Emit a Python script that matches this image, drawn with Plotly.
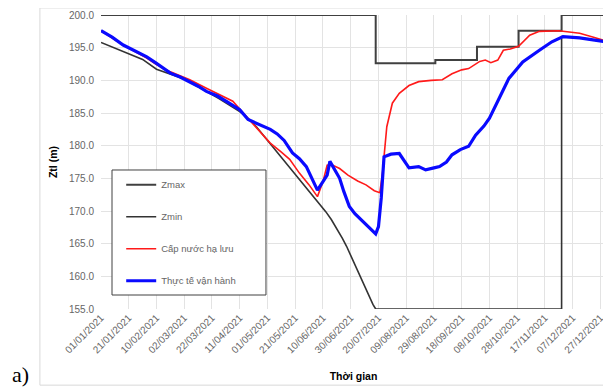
import pandas as pd
import plotly.graph_objects as go

START = "2021-01-01"

# Zmax (step line): day offset -> level
zmax_days = [0, 198, 241, 271, 301, 332, 364]
zmax_vals = [200.0, 192.6, 193.1, 195.15, 197.6, 200.0, 200.0]

# Zmin
zmin_days = [0, 10, 20, 30, 40, 48, 60, 71, 85, 100, 106, 112, 117, 122, 129, 136, 141, 145,
             149, 152, 157, 162, 166, 170, 174, 177, 180, 183, 186, 188, 191, 193, 196, 198,
             332, 332, 345, 364]
zmin_vals = [195.8, 194.9, 194.0, 193.2, 191.7, 191.1, 190.2, 188.9, 187.2, 185.2, 184.2,
             182.9, 181.6, 180.2, 178.4, 176.6, 175.3, 174.3, 173.3, 172.4, 171.1, 169.9,
             168.7, 167.3, 165.8, 164.6, 163.2, 161.8, 160.4, 159.4, 157.9, 156.9, 155.7,
             155.0, 155.0, 196.7, 196.5, 195.9]

# Cấp nước hạ lưu
red_days = [0, 16, 33, 40, 50, 64, 76, 88, 95, 100, 107, 115, 122, 130, 136, 143, 150, 156,
            160, 163, 166, 172, 178, 185, 191, 197, 201, 203, 206, 210, 215, 222, 229, 238,
            246, 253, 260, 265, 269, 273, 277, 281, 286, 290, 295, 301, 309, 316, 330, 345,
            355, 364]
red_vals = [197.6, 195.4, 193.4, 192.4, 191.3, 190.1, 188.8, 187.6, 186.8, 185.6, 183.9,
            182.1, 180.4, 179.0, 177.9, 175.8, 174.0, 172.2, 174.5, 177.0, 177.1, 176.5,
            175.5, 174.6, 174.0, 173.1, 172.8, 176.0, 182.9, 186.5, 188.0, 189.2, 189.8,
            190.0, 190.1, 191.0, 191.6, 191.8, 192.4, 192.9, 193.1, 192.7, 193.1, 194.6,
            194.8, 195.2, 196.9, 197.5, 197.6, 197.2, 196.6, 196.0]

# Thực tế vận hành
blue_days = [0, 8, 16, 25, 33, 40, 50, 57, 64, 70, 76, 84, 91, 100, 106, 110, 117, 122, 127,
             132, 138, 143, 148, 152, 156, 160, 163, 165, 168, 172, 175, 179, 183, 188, 193,
             196, 198, 200, 202, 204, 209, 215, 218, 222, 229, 234, 240, 244, 249, 253, 259,
             265, 270, 276, 280, 287, 294, 304, 311, 316, 325, 333, 345, 355, 364]
blue_vals = [197.6, 196.6, 195.4, 194.5, 193.6, 192.6, 191.1, 190.5, 189.8, 189.1, 188.3,
             187.6, 186.7, 185.5, 184.0, 183.6, 182.9, 182.5, 181.8, 180.8, 178.9, 178.0,
             176.8, 175.0, 173.2, 174.5, 175.5, 177.6, 176.5, 175.0, 173.0, 170.7, 169.6,
             168.6, 167.6, 166.9, 166.5, 167.6, 172.0, 178.3, 178.7, 178.8, 177.8, 176.6,
             176.8, 176.3, 176.6, 176.8, 177.5, 178.6, 179.4, 179.9, 181.6, 183.0, 184.2,
             187.3, 190.3, 192.8, 193.9, 194.6, 195.9, 196.7, 196.5, 196.2, 195.9]

series_names = ["Zmax", "Zmin", "Cấp nước hạ lưu", "Thực tế vận hành"]
tick_step_days = 20
n_ticks = 19
y_ticks = [155, 160, 165, 170, 175, 180, 185, 190, 195, 200]


def to_dates(days):
    return [pd.Timestamp(START) + pd.Timedelta(days=d) for d in days]


fig = go.Figure()
fig.add_trace(go.Scatter(x=to_dates(zmax_days), y=zmax_vals, mode="lines", name=series_names[0],
                         line=dict(color="#404040", width=2, shape="hv"), legendgroup="a"))
fig.add_trace(go.Scatter(x=to_dates(zmin_days), y=zmin_vals, mode="lines", name=series_names[1],
                         line=dict(color="#333333", width=1.6), legendgroup="b"))
fig.add_trace(go.Scatter(x=to_dates(red_days), y=red_vals, mode="lines", name=series_names[2],
                         line=dict(color="#ff1a1a", width=1.6), legendgroup="c"))
fig.add_trace(go.Scatter(x=to_dates(blue_days), y=blue_vals, mode="lines", name=series_names[3],
                         line=dict(color="#0a0aff", width=3.2), legendgroup="d"))

tickvals = [pd.Timestamp(START) + pd.Timedelta(days=tick_step_days * i) for i in range(n_ticks)]
ticktext = [t.strftime("%d/%m/%Y") for t in tickvals]

fig.update_layout(
    width=603, height=382,
    margin=dict(l=93, r=5, t=7, b=81, autoexpand=False),
    paper_bgcolor="white", plot_bgcolor="white",
    font=dict(family="Liberation Sans, Arial, sans-serif", size=10, color="#666666"),
    showlegend=True,
    legend=dict(x=0.040, y=0.472, xanchor="left", yanchor="top",
                bgcolor="rgba(0,0,0,0)", borderwidth=0,
                font=dict(size=9.5, color="#666666"), tracegroupgap=13,
                itemwidth=30),
    xaxis=dict(type="date", range=[pd.Timestamp(START), pd.Timestamp("2021-12-31")],
               tickvals=tickvals, ticktext=ticktext, tickangle=-45, automargin=False,
               showgrid=True, gridcolor="#e3e3e3", gridwidth=1, zeroline=False,
               showline=False, ticks="", tickfont=dict(size=10, color="#666666"),
               title=dict(text="<b>Thời gian</b>", font=dict(size=10.5, color="#000000"),
                          standoff=18)),
    yaxis=dict(range=[155, 200], tickvals=y_ticks, tickformat=".1f", automargin=False,
               showgrid=True, gridcolor="#e3e3e3", gridwidth=1, zeroline=False,
               showline=False, ticks="", ticklabelstandoff=6,
               tickfont=dict(size=10, color="#666666"),
               title=dict(text="<b>Ztl (m)</b>", font=dict(size=10.5, color="#000000"),
                          standoff=9)),
    shapes=[
        dict(type="rect", xref="paper", yref="paper", x0=-0.121, x1=1.008,
             y0=-0.259, y1=1.024, line=dict(color="#d9d9d9", width=1),
             fillcolor="rgba(0,0,0,0)", layer="below"),
        dict(type="rect", xref="paper", yref="paper", x0=0.0218, x1=0.3267,
             y0=0.0476, y1=0.4728, line=dict(color="#404040", width=1),
             fillcolor="white", layer="above"),
    ],
    annotations=[dict(text="a)", xref="paper", yref="paper", x=-0.181, y=-0.224,
                      xanchor="left", yanchor="middle", showarrow=False,
                      font=dict(family="Liberation Serif, DejaVu Serif, serif", size=22,
                                color="#000000"))],
)

fig.write_html("out.html")
